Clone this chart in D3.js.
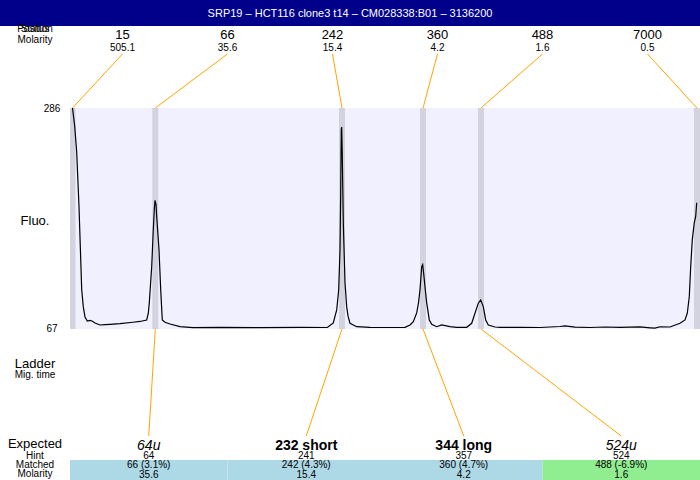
<!DOCTYPE html>
<html lang="en">
<head>
  <meta charset="UTF-8">
  <title>Ladder electropherogram</title>
  <style>
    body {
      margin: 0;
      font-family: "Liberation Sans", Arial, sans-serif;
    }
    svg text {
      fill: black;
    }
    .title {
      fill: white;
      font-size: 11px;
      text-anchor: middle;
    }
    .rowLabel {
      text-anchor: middle;
    }
    .link {
      stroke: orange;
      stroke-width: 1;
      fill: none;
    }
    .trace {
      fill: none;
      stroke: black;
      stroke-width: 1.2;
    }
  </style>
  <script src="https://d3js.org/d3.v7.min.js"></script>
</head>
<body>
  <div id="chart"></div>
  <script>
/* global d3 */

var title = "SRP19 \u2013 HCT116 clone3 t14 \u2013 CM028338:B01 \u2013 3136200";

// ladder peaks (top row)
var ladderSizes = [15, 66, 242, 360, 488, 7000];
var ladderMolarity = ["505.1", "35.6", "15.4", "4.2", "1.6", "0.5"];
var ladderTimes = [2.5, 85.3, 272, 353, 411, 627];

// expected fragments (bottom rows)
var expectedNames = ["64u", "232 short", "344 long", "524u"];
var expectedHint = [64, 241, 357, 524];
var matchedSize = [66, 242, 360, 488];
var matchedPct = [3.1, 4.3, 4.7, -6.9];
var matchedMolarity = ["35.6", "15.4", "4.2", "1.6"];
var matchedStatus = ["ok", "ok", "ok", "shifted"];
var matchedLadder = [1, 2, 3, 4];

var fluoTicks = [67, 286];

// migration trace: [time, fluorescence]
var trace = [
  [2.5, 286], [4.7, 268], [6.7, 242], [9, 188], [11.7, 105], [13.3, 88],
  [15, 78], [17.3, 74], [20, 74.5], [22, 74], [25, 72], [30, 70],
  [35, 70.3], [40, 70.7], [50, 71.3], [63, 72.7], [70, 73.5], [76.7, 75],
  [78.3, 81.7], [79.3, 92], [80.5, 110], [81.7, 128], [83.3, 165], [84.3, 185],
  [85, 194], [86, 190], [86.7, 178], [89, 145], [90.7, 105], [92.3, 75],
  [95, 72.7], [100, 71], [110, 68.3], [123, 67.3], [150, 67.7], [190, 67.4],
  [230, 67.6], [257, 67.5], [258.3, 68.3], [263.3, 72], [266.7, 85], [268.7, 105],
  [270, 145], [270.7, 202], [271.3, 265], [271.7, 267], [272.3, 238], [273.3, 172],
  [275, 112], [276.7, 88], [278, 79], [280, 71.7], [286.7, 68.3], [300, 67.7],
  [320, 67.5], [335, 67.7], [340, 70], [343.3, 73.3], [346.7, 82], [348.5, 92],
  [350, 105], [351.7, 128], [352.7, 130], [354, 118], [355.3, 105], [356.7, 92],
  [359.3, 75], [361.7, 70.7], [366.7, 68.3], [371.7, 70], [380, 68.3], [386.7, 67.7],
  [396.7, 67.7], [401.7, 71.7], [405, 81.7], [408.3, 91.7], [410.7, 95], [413.3, 88.3],
  [415.7, 75], [418.3, 70], [425, 68], [430, 67.7], [450, 67.7], [470, 67.5],
  [490, 68.5], [495, 69.2], [505, 67.8], [520, 67.5], [535, 68], [550, 67.7],
  [570, 68.2], [580, 67.2], [585, 66.8], [590, 68.2], [600, 68], [610, 71.7],
  [615, 75], [617.3, 81.7], [619.3, 98.3], [620.7, 128], [622.3, 155], [624.3, 172],
  [625.7, 178], [626.7, 191.7]
];

var width = 700,
  height = 480,
  plot = {left: 70, right: 700, top: 108, bottom: 328};

var svg = d3.select("#chart")
  .append("svg")
  .attr("width", width)
  .attr("height", height);

var x = d3.scaleLinear().domain([0, 630]).range([plot.left, plot.right]);
var y = d3.scaleLinear().domain([67, 286]).range([plot.bottom, plot.top]);

var xTop = d3.scaleBand().domain(d3.range(ladderSizes.length)).range([plot.left, plot.right]);
var xBottom = d3.scaleBand().domain(d3.range(expectedNames.length)).range([plot.left, plot.right]);
var statusColor = d3.scaleOrdinal().domain(["ok", "shifted"]).range(["#add8e6", "#90ee90"]);

// title bar
svg.append("rect")
  .attr("width", width)
  .attr("height", 26)
  .attr("fill", "#00008b");
svg.append("text")
  .attr("class", "title")
  .attr("x", width / 2)
  .attr("y", 17)
  .text(title);

// left labels
var labels = [
  {t: "Position", y: 32, s: 10},
  {t: "Status", y: 32, s: 10},
  {t: "Molarity", y: 43, s: 10},
  {t: "Fluo.", y: 225, s: 13},
  {t: "Ladder", y: 368, s: 13},
  {t: "Mig. time", y: 378, s: 10},
  {t: "Expected", y: 448, s: 13},
  {t: "Hint", y: 459, s: 10},
  {t: "Matched", y: 468, s: 10},
  {t: "Molarity", y: 477, s: 10}
];
svg.append("g")
  .selectAll("text")
  .data(labels)
  .join("text")
  .attr("class", "rowLabel")
  .attr("x", 35)
  .attr("y", function (d) { return d.y; })
  .style("font-size", function (d) { return d.s + "px"; })
  .text(function (d) { return d.t; });

// plot background + ladder bands
svg.append("rect")
  .attr("x", plot.left)
  .attr("y", plot.top)
  .attr("width", plot.right - plot.left)
  .attr("height", plot.bottom - plot.top + 1)
  .attr("fill", "#f0f0ff");

svg.append("g")
  .selectAll("rect")
  .data(ladderTimes)
  .join("rect")
  .attr("x", function (d) { return Math.max(plot.left, x(d) - 3); })
  .attr("width", function (d) { return Math.min(plot.right, x(d) + 3) - Math.max(plot.left, x(d) - 3); })
  .attr("y", plot.top)
  .attr("height", plot.bottom - plot.top + 1)
  .attr("fill", "#d3d3e0");

// y ticks
svg.append("g")
  .selectAll("text")
  .data(fluoTicks)
  .join("text")
  .attr("x", 52)
  .attr("y", function (d) { return y(d) + 4; })
  .attr("text-anchor", "middle")
  .style("font-size", "10px")
  .text(function (d) { return d; });

// trace
svg.append("path")
  .datum(trace)
  .attr("class", "trace")
  .attr("d", d3.line()
    .x(function (d) { return x(d[0]); })
    .y(function (d) { return y(d[1]); }));

// top ladder labels
var gTop = svg.append("g");
gTop.selectAll(".size")
  .data(ladderSizes)
  .join("text")
  .attr("class", "size")
  .attr("x", function (d, i) { return xTop(i) + xTop.bandwidth() / 2; })
  .attr("y", 39)
  .attr("text-anchor", "middle")
  .style("font-size", "13px")
  .text(function (d) { return d; });
gTop.selectAll(".mol")
  .data(ladderMolarity)
  .join("text")
  .attr("class", "mol")
  .attr("x", function (d, i) { return xTop(i) + xTop.bandwidth() / 2; })
  .attr("y", 51)
  .attr("text-anchor", "middle")
  .style("font-size", "10px")
  .text(function (d) { return d; });
gTop.selectAll("line")
  .data(ladderTimes)
  .join("line")
  .attr("class", "link")
  .attr("x1", function (d, i) { return xTop(i) + xTop.bandwidth() / 2; })
  .attr("y1", 54)
  .attr("x2", function (d) { return x(d); })
  .attr("y2", plot.top);

// bottom expected table
var gBottom = svg.append("g");
gBottom.selectAll("rect")
  .data(matchedStatus)
  .join("rect")
  .attr("x", function (d, i) { return xBottom(i); })
  .attr("width", xBottom.bandwidth())
  .attr("y", 460)
  .attr("height", 20)
  .attr("fill", function (d) { return statusColor(d); });

gBottom.selectAll("line")
  .data(matchedLadder)
  .join("line")
  .attr("class", "link")
  .attr("x1", function (d) { return x(ladderTimes[d]); })
  .attr("y1", plot.bottom + 1)
  .attr("x2", function (d, i) { return xBottom(i) + xBottom.bandwidth() / 2; })
  .attr("y2", 436);

function cx(d, i) { return xBottom(i) + xBottom.bandwidth() / 2; }

gBottom.selectAll(".name")
  .data(expectedNames)
  .join("text")
  .attr("class", "name")
  .attr("x", cx)
  .attr("y", 450)
  .attr("text-anchor", "middle")
  .style("font-size", "14px")
  .style("font-style", function (d) { return /u$/.test(d) ? "italic" : "normal"; })
  .style("font-weight", function (d) { return /u$/.test(d) ? "normal" : "bold"; })
  .text(function (d) { return d; });

gBottom.selectAll(".hint")
  .data(expectedHint)
  .join("text")
  .attr("class", "hint")
  .attr("x", cx)
  .attr("y", 459)
  .attr("text-anchor", "middle")
  .style("font-size", "10px")
  .text(function (d) { return d; });

gBottom.selectAll(".matched")
  .data(matchedSize)
  .join("text")
  .attr("class", "matched")
  .attr("x", cx)
  .attr("y", 468)
  .attr("text-anchor", "middle")
  .style("font-size", "10px")
  .text(function (d, i) { return d + " (" + matchedPct[i] + "%)"; });

gBottom.selectAll(".mmol")
  .data(matchedMolarity)
  .join("text")
  .attr("class", "mmol")
  .attr("x", cx)
  .attr("y", 478)
  .attr("text-anchor", "middle")
  .style("font-size", "10px")
  .text(function (d) { return d; });

  </script>
</body>
</html>
